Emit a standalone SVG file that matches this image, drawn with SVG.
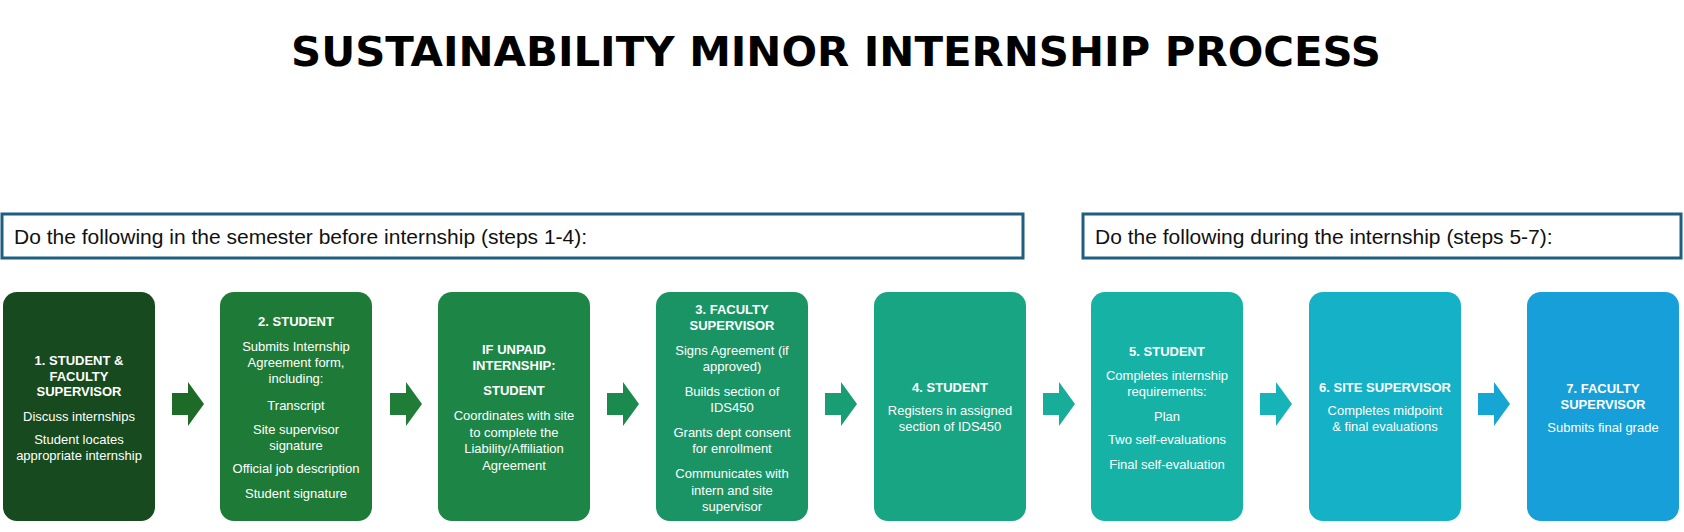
<svg xmlns="http://www.w3.org/2000/svg" width="1684" height="532" viewBox="0 0 1684 532">
<style>
.t{font-family:"Liberation Sans",Arial,sans-serif;font-size:13px;fill:#fff;text-anchor:middle}
.b{font-weight:bold}
.bn{fill:#fff;stroke:#1e5f80;stroke-width:3}
.bt{font-family:"Liberation Sans",Arial,sans-serif;font-size:21px;fill:#111}
</style>
<rect width="1684" height="532" fill="#fff"/>
<text x="836" y="66" font-family="'DejaVu Sans',sans-serif" font-weight="bold" font-size="40" text-anchor="middle" textLength="1090" lengthAdjust="spacingAndGlyphs" fill="#000">SUSTAINABILITY MINOR INTERNSHIP PROCESS</text>
<g id="banner1"><rect class="bn" x="2" y="214" width="1021" height="44"/><text class="bt" x="14" y="244">Do the following in the semester before internship (steps 1-4):</text></g>
<g id="banner2"><rect class="bn" x="1083" y="214" width="598" height="44"/><text class="bt" x="1095" y="244">Do the following during the internship (steps 5-7):</text></g>
<g id="connectors">
<path d="M172 393h16v-11l16 22-16 22v-11h-16z" fill="#1e6b28"/>
<path d="M390 393h16v-11l16 22-16 22v-11h-16z" fill="#1f7d38"/>
<path d="M607 393h16v-11l16 22-16 22v-11h-16z" fill="#1b8a4f"/>
<path d="M825 393h16v-11l16 22-16 22v-11h-16z" fill="#199e73"/>
<path d="M1043 393h16v-11l16 22-16 22v-11h-16z" fill="#17ad98"/>
<path d="M1260 393h16v-11l16 22-16 22v-11h-16z" fill="#16b3b8"/>
<path d="M1478 393h16v-11l16 22-16 22v-11h-16z" fill="#16a6d4"/>
</g>
<g id="n1"><rect x="3" y="292" width="152" height="229" rx="14" fill="#174a1e"/>
<text class="t b" x="79" y="365">1. STUDENT &amp;</text><text class="t b" x="79" y="381">FACULTY</text><text class="t b" x="79" y="396">SUPERVISOR</text>
<text class="t" x="79" y="421">Discuss internships</text><text class="t" x="79" y="444">Student locates</text><text class="t" x="79" y="460">appropriate internship</text></g>
<g id="n2"><rect x="220" y="292" width="152" height="229" rx="14" fill="#1e7b37"/>
<text class="t b" x="296" y="326">2. STUDENT</text><text class="t" x="296" y="351">Submits Internship</text><text class="t" x="296" y="367">Agreement form,</text><text class="t" x="296" y="383">including:</text>
<text class="t" x="296" y="410">Transcript</text><text class="t" x="296" y="434">Site supervisor</text><text class="t" x="296" y="450">signature</text><text class="t" x="296" y="473">Official job description</text><text class="t" x="296" y="498">Student signature</text></g>
<g id="n3"><rect x="438" y="292" width="152" height="229" rx="14" fill="#1d8546"/>
<text class="t b" x="514" y="354">IF UNPAID</text><text class="t b" x="514" y="370">INTERNSHIP:</text><text class="t b" x="514" y="395">STUDENT</text>
<text class="t" x="514" y="420">Coordinates with site</text><text class="t" x="514" y="437">to complete the</text><text class="t" x="514" y="453">Liability/Affiliation</text><text class="t" x="514" y="470">Agreement</text></g>
<g id="n4"><rect x="656" y="292" width="152" height="229" rx="14" fill="#1b9465"/>
<text class="t b" x="732" y="314">3. FACULTY</text><text class="t b" x="732" y="330">SUPERVISOR</text>
<text class="t" x="732" y="355">Signs Agreement (if</text><text class="t" x="732" y="371">approved)</text><text class="t" x="732" y="396">Builds section of</text><text class="t" x="732" y="412">IDS450</text>
<text class="t" x="732" y="437">Grants dept consent</text><text class="t" x="732" y="453">for enrollment</text><text class="t" x="732" y="478">Communicates with</text><text class="t" x="732" y="495">intern and site</text><text class="t" x="732" y="511">supervisor</text></g>
<g id="n5"><rect x="874" y="292" width="152" height="229" rx="14" fill="#18a584"/>
<text class="t b" x="950" y="392">4. STUDENT</text><text class="t" x="950" y="415">Registers in assigned</text><text class="t" x="950" y="431">section of IDS450</text></g>
<g id="n6"><rect x="1091" y="292" width="152" height="229" rx="14" fill="#16b2a6"/>
<text class="t b" x="1167" y="356">5. STUDENT</text><text class="t" x="1167" y="380">Completes internship</text><text class="t" x="1167" y="396">requirements:</text>
<text class="t" x="1167" y="421">Plan</text><text class="t" x="1167" y="444">Two self-evaluations</text><text class="t" x="1167" y="469">Final self-evaluation</text></g>
<g id="n7"><rect x="1309" y="292" width="152" height="229" rx="14" fill="#15b1c6"/>
<text class="t b" x="1385" y="392">6. SITE SUPERVISOR</text><text class="t" x="1385" y="415">Completes midpoint</text><text class="t" x="1385" y="431">&amp; final evaluations</text></g>
<g id="n8"><rect x="1527" y="292" width="152" height="229" rx="14" fill="#169fd8"/>
<text class="t b" x="1603" y="393">7. FACULTY</text><text class="t b" x="1603" y="409">SUPERVISOR</text><text class="t" x="1603" y="432">Submits final grade</text></g>
</svg>
